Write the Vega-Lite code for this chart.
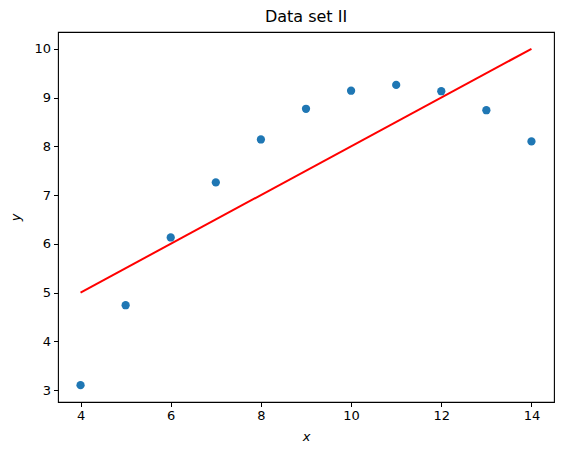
{
  "$schema": "https://vega.github.io/schema/vega-lite/v6.json",
  "width": 496,
  "height": 370,
  "autosize": {"type": "none"},
  "padding": {"left": 58, "top": 32, "right": 9, "bottom": 53},
  "title": {"text": "Data set II", "fontSize": 16, "fontWeight": "normal", "font": "DejaVu Sans", "color": "black", "offset": 7},
  "config": {
    "view": {"stroke": "black", "strokeWidth": 1.1},
    "axis": {
      "grid": false, "domain": false, "tickColor": "black", "tickSize": 4.5, "tickWidth": 1,
      "labelFont": "DejaVu Sans", "labelFontSize": 13, "labelColor": "black", "labelPadding": 3,
      "titleFont": "DejaVu Sans", "titleFontSize": 13, "titleFontWeight": "normal", "titleFontStyle": "italic", "titleColor": "black"
    }
  },
  "data": {"values": [
    {"x": 10, "y": 9.14}, {"x": 8, "y": 8.14}, {"x": 13, "y": 8.74}, {"x": 9, "y": 8.77},
    {"x": 11, "y": 9.26}, {"x": 14, "y": 8.10}, {"x": 6, "y": 6.13}, {"x": 4, "y": 3.10},
    {"x": 12, "y": 9.13}, {"x": 7, "y": 7.26}, {"x": 5, "y": 4.74}
  ]},
  "layer": [
    {
      "mark": {"type": "line", "color": "red", "strokeWidth": 2},
      "data": {"values": [{"x": 4, "fit": 5}, {"x": 14, "fit": 10}]},
      "encoding": {
        "x": {"field": "x", "type": "quantitative"},
        "y": {"field": "fit", "type": "quantitative"}
      }
    },
    {
      "mark": {"type": "circle", "color": "#1f77b4", "opacity": 1, "size": 68},
      "encoding": {
        "x": {"field": "x", "type": "quantitative", "scale": {"domain": [3.5, 14.5], "nice": false, "zero": false}, "axis": {"values": [4, 6, 8, 10, 12, 14], "title": "x", "titlePadding": 8}},
        "y": {"field": "y", "type": "quantitative", "scale": {"domain": [2.755, 10.345], "nice": false, "zero": false}, "axis": {"values": [3, 4, 5, 6, 7, 8, 9, 10], "title": "y", "titlePadding": 11}}
      }
    }
  ]
}
